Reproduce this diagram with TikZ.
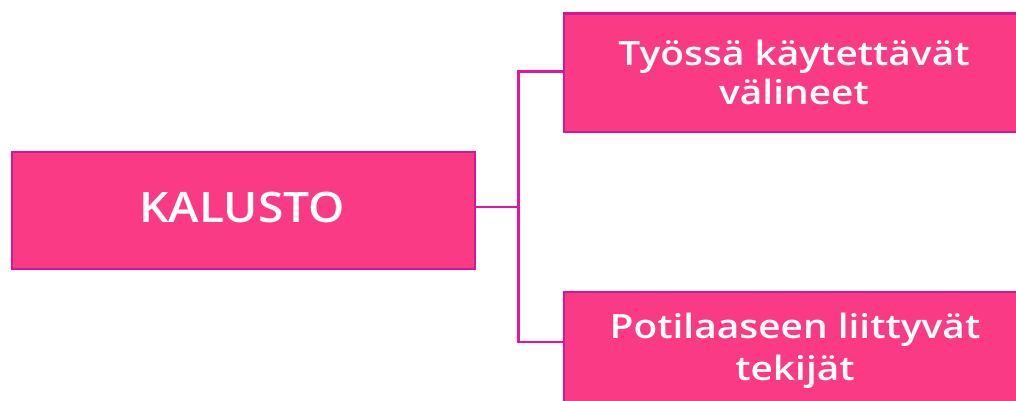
\documentclass[tikz,border=0pt]{standalone}
\usepackage{fontspec}
\setmainfont{Open Sans}
\newfontfamily\semib{Open Sans Semibold}[FakeStretch=1.1]
\newfontfamily\semibw{Open Sans Semibold}[FakeStretch=1.16]
\definecolor{boxfill}{HTML}{FA3A84}
\definecolor{boxline}{HTML}{D0189A}
\definecolor{conn}{HTML}{E8139C}
\begin{document}
\begin{tikzpicture}[x=1pt,y=-1pt,
  box/.style={draw=boxline,line width=2.8pt,fill=boxfill,inner sep=0pt,anchor=north west},
  label/.style={text=white,align=center,inner sep=0pt,anchor=base},
  link/.style={draw=conn,line width=2.8pt}]
\useasboundingbox (0,0) rectangle (1016,401);
\clip (0,0) rectangle (1016,401);
\node[box,minimum width=463pt,minimum height=117pt] (root) at (10.5,150.5) {};
\node[box,minimum width=470pt,minimum height=118pt] (a) at (562.5,12.5) {};
\node[box,minimum width=470pt,minimum height=140pt] (b) at (562.5,290.5) {};
\node[label,font=\semib\fontsize{42}{48}\selectfont] (tr) at (242,222) {KALUSTO};
\node[label,font=\semibw\fontsize{33.5}{39}\selectfont] (ta) at (794,105) {Työssä käytettävät\\välineet};
\node[label,font=\semibw\fontsize{33.5}{42}\selectfont] (tb) at (795,380) {Potilaaseen liittyvät\\tekijät};
\coordinate (j) at (518.5,207);
\coordinate (ja) at (518.5,71.5);
\coordinate (jb) at (518.5,342);
\draw[link] (root.east |- j) -- (j);
\draw[link,line cap=rect] (ja) -- (jb);
\draw[link] (ja) -- (a.west |- ja);
\draw[link] (jb) -- (b.west |- jb);
\end{tikzpicture}
\end{document}
